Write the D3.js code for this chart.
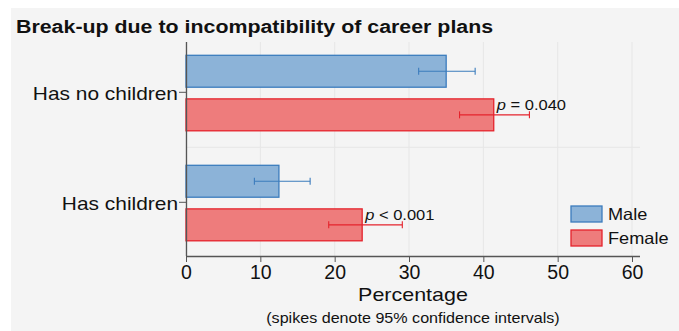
<!DOCTYPE html>
<html>
<head>
<meta charset="utf-8">
<script src="https://cdn.jsdelivr.net/npm/d3@7/dist/d3.min.js"></script>
<style>
  html, body { margin: 0; padding: 0; background: #ffffff; }
  svg { display: block; font-family: "Liberation Sans", Arial, sans-serif; }
</style>
</head>
<body>
<svg id="chart" width="679" height="331"></svg>
<script>
// Categories and series
const groups = ["Has no children", "Has children"];
const sexes = ["Male", "Female"];
const maleValues = [35.0, 12.5];
const femaleValues = [41.4, 23.7];
const maleLower = [31.3, 9.2];
const maleUpper = [38.9, 16.7];
const femaleLower = [36.8, 19.2];
const femaleUpper = [46.2, 29.1];
const pLabels = ["= 0.040", "< 0.001"];
const xTicks = [0, 10, 20, 30, 40, 50, 60];

const rows = [];
groups.forEach((g, i) => {
  rows.push({ group: g, sex: "Male", value: maleValues[i], lo: maleLower[i], hi: maleUpper[i] });
  rows.push({ group: g, sex: "Female", value: femaleValues[i], lo: femaleLower[i], hi: femaleUpper[i], p: pLabels[i] });
});

const colors = {
  Male: { fill: "#8cb3d8", stroke: "#3b7cbd" },
  Female: { fill: "#ee7c7c", stroke: "#e5232c" }
};

// Widen text horizontally by a factor while keeping its anchor
function widen(sel, k) {
  sel.each(function () {
    const w = this.getComputedTextLength();
    this.setAttribute("textLength", (w * k).toFixed(2));
    this.setAttribute("lengthAdjust", "spacingAndGlyphs");
  });
}

const svg = d3.select("#chart");

// Panel background
svg.append("rect").attr("x", 11).attr("y", 8).attr("width", 668).attr("height", 323).attr("fill", "#f4f4f4");

const x = d3.scaleLinear().domain([0, 60]).range([186, 632]);
const y = d3.scaleBand().domain(groups).range([37.3, 257.3]).padding(0);
const ySex = d3.scaleBand().domain(sexes).range([18, 93.5]).paddingInner(0.268).paddingOuter(0);

const plotTop = 42, plotBottom = 256, plotRight = 640;
const titleX = 413;

// Grid lines
svg.append("g").selectAll("line").data(xTicks).join("line")
  .attr("x1", d => x(d)).attr("x2", d => x(d))
  .attr("y1", plotTop).attr("y2", plotBottom)
  .attr("stroke", "#e6e6e6").attr("stroke-width", 1);
svg.append("line")
  .attr("x1", x(0)).attr("x2", plotRight)
  .attr("y1", y(groups[1])).attr("y2", y(groups[1]))
  .attr("stroke", "#e6e6e6").attr("stroke-width", 1);

// Bars
svg.append("g").selectAll("rect").data(rows).join("rect")
  .attr("x", x(0))
  .attr("y", d => y(d.group) + ySex(d.sex))
  .attr("width", d => x(d.value) - x(0))
  .attr("height", ySex.bandwidth())
  .attr("fill", d => colors[d.sex].fill)
  .attr("stroke", d => colors[d.sex].stroke)
  .attr("stroke-width", 1.3);

// Confidence interval spikes
const ci = svg.append("g");
rows.forEach(d => {
  const cy = y(d.group) + ySex(d.sex) + ySex.bandwidth() / 2;
  const c = colors[d.sex].stroke;
  ci.append("line").attr("x1", x(d.lo)).attr("x2", x(d.hi)).attr("y1", cy).attr("y2", cy)
    .attr("stroke", c).attr("stroke-width", 1.1);
  [d.lo, d.hi].forEach(v => {
    ci.append("line").attr("x1", x(v)).attr("x2", x(v)).attr("y1", cy - 3.5).attr("y2", cy + 3.5)
      .attr("stroke", c).attr("stroke-width", 1.1);
  });
});

// p-value annotations
rows.filter(d => d.p).forEach(d => {
  const top = y(d.group) + ySex(d.sex);
  const t = svg.append("text")
    .attr("x", x(d.value) + 3)
    .attr("y", top + 11.5)
    .attr("font-size", 15)
    .attr("fill", "#111");
  t.append("tspan").attr("font-style", "italic").text("p");
  t.append("tspan").text(" " + d.p);
  widen(t, 1.1);
});

// X axis
const xAxis = svg.append("g").attr("transform", `translate(0,${plotBottom})`)
  .call(d3.axisBottom(x).tickValues(xTicks).tickSize(6).tickSizeOuter(0).tickFormat(d3.format("d")));
xAxis.select(".domain").attr("d", `M${x(0)},0.5H${plotRight}`).attr("stroke", "#555").attr("stroke-width", 1.3);
xAxis.selectAll(".tick line").attr("stroke", "#555");
xAxis.selectAll(".tick text").attr("font-size", 19.5).attr("fill", "#111")
  .attr("font-family", "Liberation Sans, Arial, sans-serif");

// Y axis
const yAxis = svg.append("g").attr("transform", `translate(${x(0)},0)`)
  .call(d3.axisLeft(y).tickSize(7).tickSizeOuter(0).tickPadding(1));
yAxis.select(".domain").attr("d", `M0.5,${plotTop}V${plotBottom}`).attr("stroke", "#555").attr("stroke-width", 1.3);
yAxis.selectAll(".tick line").attr("stroke", "#555");
yAxis.selectAll(".tick text").attr("font-size", 19).attr("fill", "#111").attr("dy", "0.4em")
  .attr("font-family", "Liberation Sans, Arial, sans-serif");
widen(yAxis.selectAll(".tick text"), 1.1);

// Titles
widen(svg.append("text").attr("x", 16).attr("y", 33).attr("font-size", 18.7).attr("font-weight", "bold")
  .attr("fill", "#111").text("Break-up due to incompatibility of career plans"), 1.143);
widen(svg.append("text").attr("x", titleX).attr("y", 301).attr("text-anchor", "middle")
  .attr("font-size", 19).attr("fill", "#111").text("Percentage"), 1.13);
widen(svg.append("text").attr("x", titleX).attr("y", 323).attr("text-anchor", "middle")
  .attr("font-size", 14.5).attr("fill", "#111").text("(spikes denote 95% confidence intervals)"), 1.11);

// Legend
const legend = svg.append("g");
sexes.forEach((s, i) => {
  const ly = 206 + i * 24;
  legend.append("rect").attr("x", 571).attr("y", ly).attr("width", 31).attr("height", 16)
    .attr("fill", colors[s].fill).attr("stroke", colors[s].stroke).attr("stroke-width", 1.3);
  widen(legend.append("text").attr("x", 608).attr("y", ly + 14).attr("font-size", 16.5)
    .attr("fill", "#111").text(s), 1.1);
});
</script>
</body>
</html>
